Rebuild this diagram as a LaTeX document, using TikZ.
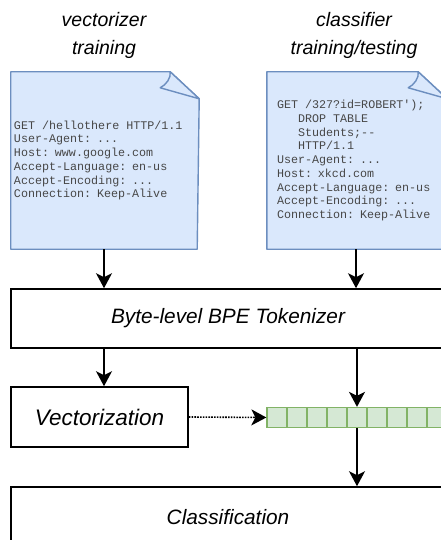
\documentclass[tikz,border=0pt]{standalone}
\usepackage{fontspec}
\setsansfont{Liberation Sans}
\setmonofont{Liberation Mono}
\usetikzlibrary{arrows.meta, positioning, calc, backgrounds}

\definecolor{docfill}{HTML}{DAE8FC}
\definecolor{docline}{HTML}{6C8EBF}
\definecolor{vecfill}{HTML}{D5E8D4}
\definecolor{vecline}{HTML}{82B366}

\begin{document}
\begin{tikzpicture}[x=1bp, y=-1bp,
  every node/.style={align=center},
  title/.style={font=\fontsize{19.5bp}{28bp}\sffamily\itshape},
  doc/.style={minimum width=#1, minimum height=177bp, inner sep=0pt,
              align=left, text=black!72,
              font=\fontsize{11.7bp}{13.75bp}\ttfamily,
              execute at begin node={\spaceskip=7.02bp\relax}},
  box/.style={draw, line width=1.6bp, inner sep=0pt,
              font=\fontsize{20.8bp}{25bp}\sffamily\itshape},
  cell/.style={draw=vecline, fill=vecfill, line width=1.3bp,
               minimum size=20bp, inner sep=0pt},
  arr/.style={-{Stealth[length=15bp, width=16bp, inset=4bp]}, line width=1.6bp}
]
  \useasboundingbox (0,0) rectangle (441,540);
  \clip (0,0) rectangle (441,540);

  % the two requests
  \node[doc=186bp, text width=180bp] (vdoc) at (104,160.5)
    {GET /hellothere HTTP/1.1\\User-Agent: ...\\Host: www.google.com\\
     Accept-Language: en-us\\Accept-Encoding: ...\\Connection: Keep-Alive};
  \node[doc=178bp, text width=158bp] (cdoc) at (356,160.5)
    {GET /327?id=ROBERT');\\\phantom{GET}DROP TABLE\\\phantom{GET}Students;--\\
     \phantom{GET}HTTP/1.1\\User-Agent: ...\\Host: xkcd.com\\
     Accept-Language: en-us\\Accept-Encoding: ...\\Connection: Keep-Alive};
  \node[title] (vtitle) at (104,35) {vectorizer\\training};
  \node[title] (ctitle) at (354,35) {classifier\\training/testing};

  \begin{scope}[on background layer]
    \clip (0,0) rectangle (441,540);
    \fill[white] (0,0) rectangle (441,540);
    \foreach \d in {vdoc,cdoc} {
      \draw[docline, fill=docfill, line width=1.4bp, line join=round]
        (\d.north west) -- ($(\d.north east)+(-27,0)$) -- ($(\d.north east)+(2,27)$)
        -- ($(\d.south east)$) -- (\d.south west) -- cycle;
      \draw[docline, fill=docfill, line width=1.4bp, line join=round]
        ($(\d.north east)+(-27,0)$) .. controls ($(\d.north east)+(-26,6)$)
        and ($(\d.north east)+(-31,13)$) .. ($(\d.north east)+(-37,16)$)
        -- ($(\d.north east)+(2,27)$) -- cycle;
    }
  \end{scope}

  % pipeline
  \node[box, minimum width=434bp, minimum height=59bp] (tok) at (228,318.5)
    {Byte-level BPE Tokenizer};
  \node[box, minimum width=177bp, minimum height=60bp,
        font=\fontsize{22.5bp}{27bp}\sffamily\itshape] (vec) at (99.5,417)
    {Vectorization};
  \foreach \i in {1,...,9}
    \node[cell] (c\i) at ({257+20*\i},417.5) {};
  \node[box, minimum width=434bp, minimum height=60bp] (cls) at (228,517)
    {Classification};

  \draw[arr] (vdoc.south) -- (vdoc.south |- tok.north);
  \draw[arr] (cdoc.south) -- (cdoc.south |- tok.north);
  \draw[arr] (vdoc.south |- tok.south) -- (vdoc.south |- vec.north);
  \draw[arr] (c5.north |- tok.south) -- (c5.north);
  \draw[arr, dash pattern=on 1.6bp off 1.2bp] (vec.east) -- (c1.west);
  \draw[arr] (c5.south) -- (c5.south |- cls.north);
\end{tikzpicture}
\end{document}
